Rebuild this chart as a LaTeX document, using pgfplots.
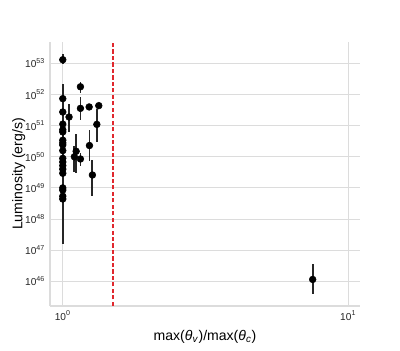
\documentclass[border=0pt]{standalone}
\usepackage{fontspec}
\setmainfont{Liberation Sans}
\usepackage{pgfplots}
\pgfplotsset{compat=1.18}
\usepackage{pgfplotstable}

\definecolor{gridgray}{HTML}{DCDCDC}
\definecolor{cutred}{HTML}{E0282E}

% luminosity with upper / lower ends of the error bar
\pgfplotstableread{
x     y       hi      lo
1.000 1.32e53 1.95e53 9.5e52
1.000 7.4e51  7.4e51  7.4e51
1.000 2.75e51 2.75e51 2.75e51
1.000 1.12e51 1.12e51 1.12e51
1.000 7.4e50  7.4e50  7.4e50
1.000 6.3e50  6.3e50  6.3e50
1.000 3.4e50  3.4e50  3.4e50
1.000 2.8e50  2.8e50  2.8e50
1.000 2.4e50  2.4e50  2.4e50
1.000 1.58e50 1.58e50 1.58e50
1.000 8.9e49  8.9e49  8.9e49
1.000 6.8e49  2.24e52 1.58e47
1.000 5.2e49  5.2e49  5.2e49
1.000 4.0e49  4.0e49  4.0e49
1.000 2.95e49 2.95e49 2.95e49
1.000 1.0e49  1.0e49  1.0e49
1.000 8.5e48  8.5e48  8.5e48
1.000 5.4e48  5.4e48  5.4e48
1.000 4.4e48  4.4e48  4.4e48
1.052 1.9e51  4.9e51  6.2e50
1.098 1.0e50  2.3e50  3.2e49
1.114 1.5e50  5.5e50  2.95e49
1.153 1.78e52 2.57e52 1.12e52
1.153 3.6e51  8.3e51  1.55e51
1.153 8.5e49  1.32e50 5.2e49
1.237 4.0e51  4.8e51  3.3e51
1.240 2.3e50  7.4e50  7.2e49
1.270 2.6e49  7.6e49  5.6e48
1.316 1.1e51  3.5e51  2.95e50
1.337 4.4e51  5.2e51  3.6e51
7.510 1.14e46 3.5e46  3.8e45
}\lumdata

\begin{document}
\begin{tikzpicture}
\useasboundingbox (-1.25cm,-1.1cm) rectangle (8.75cm,7.65cm);
\begin{axis}[
  at={(0,0)}, anchor=south west,
  scale only axis, width=7.75cm, height=6.6cm,
  xmode=log, ymode=log,
  xmin=0.902, xmax=11.0, ymin=1.6e45, ymax=4.9e53,
  xtick={1,10}, xticklabels={10\textsuperscript{0},10\textsuperscript{1}},
  ytick={1e46,1e47,1e48,1e49,1e50,1e51,1e52,1e53},
  yticklabels={10\textsuperscript{46},10\textsuperscript{47},10\textsuperscript{48},10\textsuperscript{49},
    10\textsuperscript{50},10\textsuperscript{51},10\textsuperscript{52},10\textsuperscript{53}},
  xminorticks=false, yminorticks=false,
  major tick length=0pt,
  grid=major, major grid style={gridgray, line width=0.7pt},
  axis x line*=bottom, axis y line*=left,
  axis line style={gridgray, line width=0.8pt, -},
  tick label style={font=\fontsize{7.2}{8}\selectfont, text=black!85},
  label style={font=\fontsize{10}{12}\selectfont},
  xlabel={max(\textit{θ}\textsubscript{\textit{v}})/max(\textit{θ}\textsubscript{\textit{c}})},
  ylabel={Luminosity (erg/s)},
  ylabel shift=-7pt,
]
\addplot[cutred, line width=0.9pt, dash pattern=on 3pt off 1.6pt]
  coordinates {(1.5,1e45) (1.5,1e54)};
\addplot[only marks, mark=*, mark size=2.4pt, black,
  error bars/.cd, y dir=both, y explicit,
  error mark=none, error bar style={line width=1.3pt, black!85}]
  table[x=x, y=y,
    y error plus expr=\thisrow{hi}-\thisrow{y},
    y error minus expr=\thisrow{y}-\thisrow{lo}] {\lumdata};
\end{axis}
\end{tikzpicture}
\end{document}
